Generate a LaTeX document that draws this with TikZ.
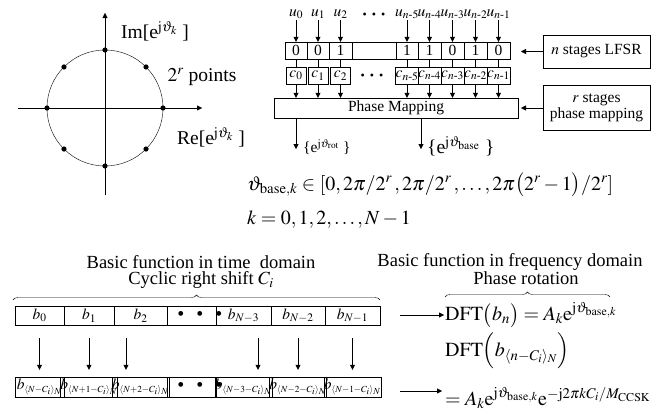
\documentclass[tikz,border=0pt]{standalone}
\usepackage{amsmath}
\usepackage{mathptmx}
\usepackage{fontspec}
\setmainfont{Liberation Serif}
\usetikzlibrary{positioning,arrows.meta,decorations.pathreplacing}

\newcommand\hugefont{\fontsize{20}{24}\selectfont}
\newcommand\cirfont{\fontsize{19.5}{22}\selectfont}
\newcommand\ttlfont{\fontsize{18.5}{20}\selectfont}
\newcommand\midfont{\fontsize{15.5}{18}\selectfont}
\newcommand\smallfont{\fontsize{15.5}{17}\selectfont}
\newcommand\slotdots{\fontsize{20}{20}\selectfont\textbullet\hspace{12pt}\textbullet\hspace{12pt}\textbullet}
\newcommand\shsub[1]{_{\scriptscriptstyle #1}}

\tikzset{
  arr/.style={-{Triangle[length=5pt,width=5pt]}},
  cell/.style={rectangle,draw,minimum height=17pt,inner sep=0pt,font=\midfont},
  cbox/.style={rectangle,draw,minimum width=20pt,minimum height=17pt,inner sep=0pt,font=\smallfont},
  slot/.style={rectangle,draw,minimum height=19pt,inner sep=0pt,font=\midfont},
  sidebox/.style={rectangle,draw,minimum width=107pt,inner sep=2pt,align=center,font=\midfont},
  cbrace/.style={decorate,decoration={brace,amplitude=5pt}},
}

\begin{document}
\begin{tikzpicture}[x=1pt,y=-1pt]
\useasboundingbox (0,0) rectangle (661,415);

% constellation
\coordinate (o) at (105,108);
\coordinate (xl) at (18,108);
\coordinate (xr) at (202,108);
\coordinate (yb) at (105,195);
\coordinate (yt) at (105,13);
\draw[arr] (xl) -- (xr);
\draw[arr] (yb) -- (yt);
\draw (o) circle[radius=58pt];
\foreach \a in {0,45,...,315}
  \fill (o) ++(\a:58pt) circle[radius=2.6pt];
\node[font=\cirfont] (imlab) at (155,31) {Im[e$^{\mathrm{j}\vartheta_k}$ ]};
\node[font=\cirfont] (ptslab) at (202,77) {$2^r$ points};
\node[font=\cirfont] (relab) at (211,137) {Re[e$^{\mathrm{j}\vartheta_k}$ ]};

% LFSR and phase mapping
\node[cell,minimum width=244pt,minimum height=20pt] (pm) at (396,108) {Phase Mapping};
\coordinate (urow) at (0,14);
\coordinate (crow) at (0,75.5);
\foreach \l/\r/\v [count=\i] in {285/307/0,307/329/0,329/352/1,352/396/{},396/418/1,418/441/1,441/464/0,464/487/1,487/510/0}
  \node[cell,minimum width={(\r-\l)*1pt}] (s\i) at ({(\l+\r)/2},50.5) {\v};
\foreach \i/\u in {1/0,2/1,3/2,5/n\text{-}5,6/n\text{-}4,7/n\text{-}3,8/n\text{-}2,9/n\text{-}1} {
  \node[font=\smallfont,inner sep=1pt] (u\i) at (s\i |- urow) {$u_{\u}$};
  \draw[arr] (u\i) -- (s\i);
  \node[cbox] (c\i) at (s\i |- crow) {$c_{\u}$};
  \draw (s\i) -- (c\i);
  \draw[arr] (c\i) -- (c\i |- pm.north);
}
\node[inner sep=0pt] (udots) at (374,16) {\fontsize{12}{12}\selectfont\textbullet\hspace{5pt}\textbullet\hspace{5pt}\textbullet};
\node[inner sep=0pt] (cdots) at (372,77) {\fontsize{12}{12}\selectfont\textbullet\hspace{5pt}\textbullet\hspace{5pt}\textbullet};

\node[sidebox,minimum height=33pt] (nlfsr) at (596.5,51.5) {$n$ stages LFSR};
\node[sidebox,minimum height=45pt] (rmap) at (596.5,107.5) {$r$ stages\\[-2pt]phase mapping};
\coordinate (nin) at (521,51.5);
\coordinate (rin) at (521,108);
\draw[arr] (nlfsr.west |- nin) -- (nin);
\draw[arr] (rmap.west |- rin) -- (rin);

\coordinate (rotend) at (296,149);
\coordinate (baseend) at (421,149);
\draw[arr] (pm.south -| rotend) -- (rotend);
\draw[arr] (pm.south -| baseend) -- (baseend);
\node[anchor=west,font=\midfont,inner sep=1pt] (rotlab) at (302,147) {\{e$^{\mathrm{j}\vartheta_{\mathrm{rot}}}$ \}};
\node[anchor=west,font=\cirfont,inner sep=1pt] (baselab) at (426,146) {\{e$^{\mathrm{j}\vartheta_{\mathrm{base}}}$ \}};

\node[anchor=west,font=\hugefont,inner sep=0pt] (thetaset) at (247,185)
  {$\vartheta_{\mathrm{base},k}\in[0,2\pi/2^r\,,2\pi/2^r\,,\ldots,2\pi\bigl(2^r-1\bigr)/2^r]$};
\node[anchor=west,font=\hugefont,inner sep=0pt] (kset) at (247,220) {$k=0,1,2,\ldots,N-1$};

% time domain / frequency domain
\node[font=\ttlfont] (tdtitle) at (201,262) {Basic function in time \ domain};
\node[font=\ttlfont] (tdsub) at (201,280) {Cyclic right shift $C_i$};
\node[font=\ttlfont] (fdtitle) at (510,262) {Basic function in frequency domain};
\node[font=\ttlfont] (fdsub) at (526,278) {Phase rotation};
\draw[cbrace] (13,300) -- (380,300);
\draw[cbrace] (445,297) -- (610,297);

\foreach \l/\r/\t [count=\i] in {15/64/{$b_0$},64/114/{$b_1$},114/167/{$b_2$},167/216/{},216/271/{$b_{N-3}$},271/325/{$b_{N-2}$},325/380/{$b_{N-1}$}}
  \node[slot,minimum width={(\r-\l)*1pt}] (b\i) at ({(\l+\r)/2},315.5) {\t};
\foreach \l/\r/\t [count=\i] in {15/64/{$b\shsub{\langle N-C_i\rangle_N}$},64/114/{$b\shsub{\langle N+1-C_i\rangle_N}$},114/167/{$b\shsub{\langle N+2-C_i\rangle_N}$},167/216/{},216/271/{$b\shsub{\langle N-3-C_i\rangle_N}$},271/325/{$b\shsub{\langle N-2-C_i\rangle_N}$},325/380/{$b\shsub{\langle N-1-C_i\rangle_N}$}}
  \node[slot,minimum width={(\r-\l)*1pt},minimum height=20pt] (bs\i) at ({(\l+\r)/2},387) {\t};
\node[inner sep=0pt] (bdots) at (200,315.5) {\slotdots};
\node[inner sep=0pt] (bsdots) at (200,387) {\slotdots};
\foreach \i/\dx in {1/0,2/0,3/-14.5,5/14.5,6/0,7/0}
  \draw[arr,shorten <=13pt,shorten >=7pt] ([xshift=\dx]b\i.south) -- ([xshift=\dx]bs\i.north);

\node[anchor=west,font=\hugefont,inner sep=1pt] (dft1) at (444,315)
  {$\mathrm{DFT}\bigl(b_n\bigr)=A_k\mathrm{e}^{\mathrm{j}\vartheta_{\mathrm{base},k}}$};
\node[anchor=west,font=\hugefont,inner sep=1pt] (dft2) at (444,351)
  {$\mathrm{DFT}\Bigl(b_{\langle n-C_i\rangle_N}\Bigr)$};
\node[anchor=west,font=\hugefont,inner sep=1pt] (dft3) at (444,398)
  {$=A_k\mathrm{e}^{\mathrm{j}\vartheta_{\mathrm{base},k}}\mathrm{e}^{-\mathrm{j}2\pi kC_i/M_{\mathrm{CCSK}}}$};
\coordinate (arrx) at (400,0);
\coordinate (a2end) at (442,391);
\draw[arr] (arrx |- dft1.west) -- (dft1.west);
\draw[arr] (arrx |- a2end) -- (a2end);
\end{tikzpicture}
\end{document}
